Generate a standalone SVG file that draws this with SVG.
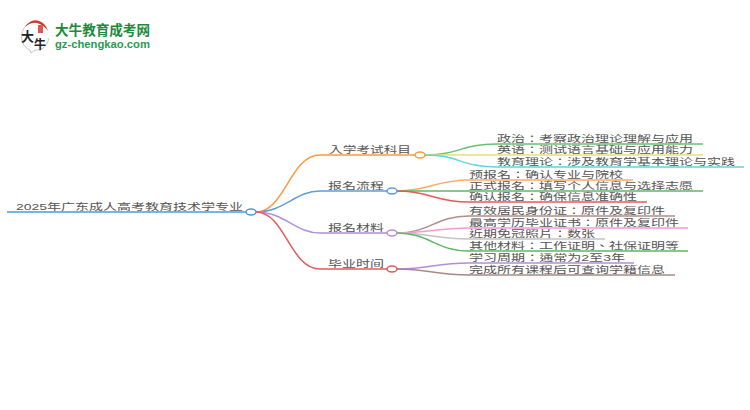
<svg xmlns="http://www.w3.org/2000/svg" width="750" height="410" viewBox="0 0 750 410">
<style>
.t{font-family:"Liberation Sans","Noto Sans CJK TC",sans-serif;font-size:9.5px;fill:#555}
.c{fill:none;stroke-width:1.5}
.n{fill:#fff;stroke-width:1.5}
.b{font-family:"Liberation Sans","Noto Sans CJK SC",sans-serif;font-weight:700;fill:#222}
</style>
<rect width="750" height="410" fill="#fff"/>
<g id="logo">
<path d="M24 28C19 37 22 47 30 50L31 53L35 50C42 51 47 46 49 38" fill="none" stroke="#c8c8c8" stroke-width="1"/>
<path d="M24 28Q33 15 44 24Q47 27 48 31Q44 25 37 23Q30 22 24 28Z" fill="#d0342c"/>
<rect x="38" y="25" width="5" height="8" fill="#d65a50"/>
<text class="b" x="21" y="41" font-size="13">大</text>
<text class="b" x="34" y="49" font-size="12">牛</text>
<text x="55" y="35" font-family="Noto Sans CJK SC,sans-serif" font-size="13.5" font-weight="700" fill="#1e8a3c" textLength="95" lengthAdjust="spacingAndGlyphs">大牛教育成考网</text>
<text x="55" y="48" font-family="Liberation Sans,sans-serif" font-size="11.5" font-weight="700" fill="#2a9a50" textLength="95" lengthAdjust="spacingAndGlyphs">gz-chengkao.com</text>
</g>
<g id="connectors">
<path class="c" stroke="#4a9bd6" d="M7 212H246"/>
<path class="c" stroke="#ff9a3c" d="M256 212C285 212 290 155 320 155H415"/>
<path class="c" stroke="#5b9fd6" d="M256 212C285 212 295 191 320 191H387"/>
<path class="c" stroke="#b48fd9" d="M256 212C285 212 295 233 320 233H387"/>
<path class="c" stroke="#e65a5a" d="M256 212C285 212 290 269 320 269H387"/>
<path class="c" stroke="#6cbf6c" d="M425 155C460 155 460 144 497 144H703"/>
<path class="c" stroke="#e5e07a" d="M425 155H703"/>
<path class="c" stroke="#5fd5dc" d="M425 155C460 155 460 167 497 167H744"/>
<path class="c" stroke="#ffab66" d="M397 191C430 191 435 180 469 180H633"/>
<path class="c" stroke="#5cb85c" d="M397 191H703"/>
<path class="c" stroke="#e65a5a" d="M397 191C430 191 435 202 469 202H647"/>
<path class="c" stroke="#b08f85" d="M397 233C430 233 435 216 469 216H675"/>
<path class="c" stroke="#ee9bd5" d="M397 233C430 233 435 228 469 228H688"/>
<path class="c" stroke="#c4c4c4" d="M397 233C430 233 435 239 469 239H605"/>
<path class="c" stroke="#5cb85c" d="M397 233C430 233 435 251 469 251H688"/>
<path class="c" stroke="#b48fd9" d="M397 269C430 269 435 263 469 263H634"/>
<path class="c" stroke="#a98a80" d="M397 269C430 269 435 275 469 275H675"/>
</g>
<g id="root"><text class="t" x="16" y="210" textLength="227" lengthAdjust="spacingAndGlyphs">2025年广东成人高考教育技术学专业</text><ellipse class="n" cx="251" cy="212" rx="5" ry="3" stroke="#4a9bd6"/></g>
<g id="n1"><text class="t" x="329" y="153" textLength="82" lengthAdjust="spacingAndGlyphs">入学考试科目</text><ellipse class="n" cx="420" cy="155" rx="5" ry="3" stroke="#ff9a3c"/></g>
<g id="n2"><text class="t" x="328" y="189" textLength="56" lengthAdjust="spacingAndGlyphs">报名流程</text><ellipse class="n" cx="392" cy="191" rx="5" ry="3" stroke="#5b9fd6"/></g>
<g id="n3"><text class="t" x="328" y="231" textLength="56" lengthAdjust="spacingAndGlyphs">报名材料</text><ellipse class="n" cx="392" cy="233" rx="5" ry="3" stroke="#b48fd9"/></g>
<g id="n4"><text class="t" x="328" y="267" textLength="56" lengthAdjust="spacingAndGlyphs">毕业时间</text><ellipse class="n" cx="392" cy="269" rx="5" ry="3" stroke="#e65a5a"/></g>
<g id="l1"><text class="t" x="497" y="142" textLength="196" lengthAdjust="spacingAndGlyphs">政治：考察政治理论理解与应用</text></g>
<g id="l2"><text class="t" x="497" y="153" textLength="196" lengthAdjust="spacingAndGlyphs">英语：测试语言基础与应用能力</text></g>
<g id="l3"><text class="t" x="497" y="165" textLength="238" lengthAdjust="spacingAndGlyphs">教育理论：涉及教育学基本理论与实践</text></g>
<g id="l4"><text class="t" x="469" y="178" textLength="154" lengthAdjust="spacingAndGlyphs">预报名：确认专业与院校</text></g>
<g id="l5"><text class="t" x="469" y="189" textLength="224" lengthAdjust="spacingAndGlyphs">正式报名：填写个人信息与选择志愿</text></g>
<g id="l6"><text class="t" x="469" y="200" textLength="168" lengthAdjust="spacingAndGlyphs">确认报名：确保信息准确性</text></g>
<g id="l7"><text class="t" x="469" y="214" textLength="196" lengthAdjust="spacingAndGlyphs">有效居民身份证：原件及复印件</text></g>
<g id="l8"><text class="t" x="469" y="226" textLength="210" lengthAdjust="spacingAndGlyphs">最高学历毕业证书：原件及复印件</text></g>
<g id="l9"><text class="t" x="469" y="237" textLength="126" lengthAdjust="spacingAndGlyphs">近期免冠照片：数张</text></g>
<g id="l10"><text class="t" x="469" y="249" textLength="210" lengthAdjust="spacingAndGlyphs">其他材料：工作证明、社保证明等</text></g>
<g id="l11"><text class="t" x="469" y="261" textLength="156" lengthAdjust="spacingAndGlyphs">学习周期：通常为2至3年</text></g>
<g id="l12"><text class="t" x="469" y="273" textLength="196" lengthAdjust="spacingAndGlyphs">完成所有课程后可查询学籍信息</text></g>
</svg>
